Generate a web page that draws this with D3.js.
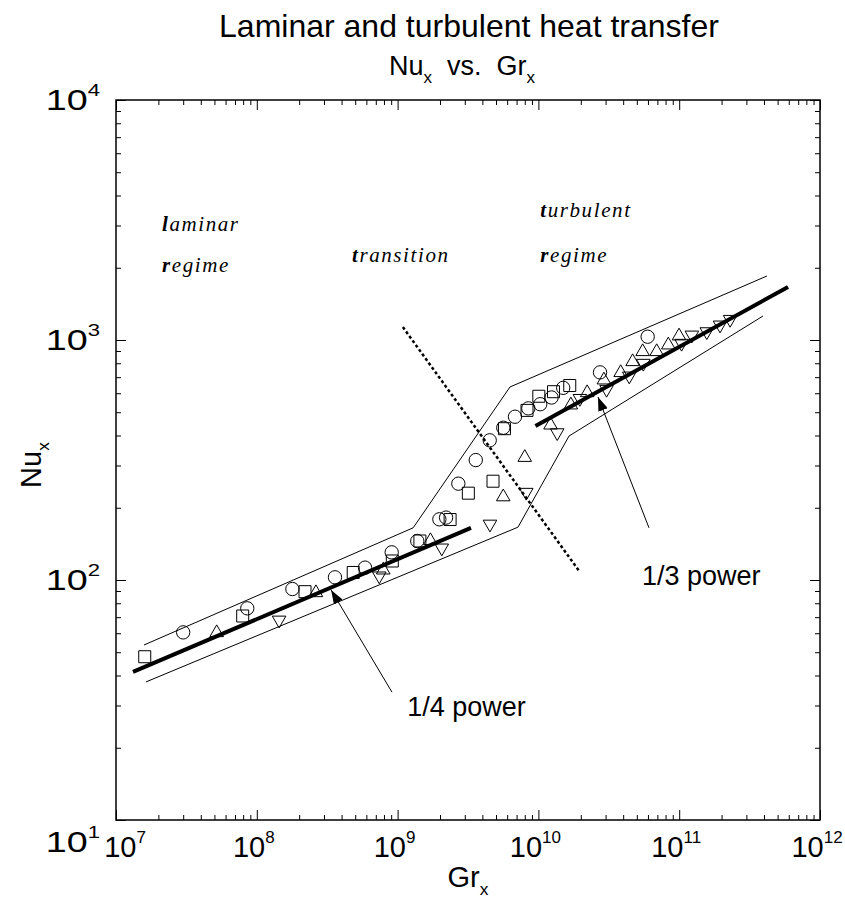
<!DOCTYPE html>
<html>
<head>
<meta charset="utf-8">
<script src="https://cdn.jsdelivr.net/npm/d3@7"></script>
<style>
  body { margin: 0; background: #fff; }
  svg { display: block; font-family: 'Liberation Sans', Arial, sans-serif; }
</style>
</head>
<body>
<svg id="chart" width="845" height="905"></svg>
<script>
// data (Gr_x, Nu_x)
const circleGr = [3.0e7, 8.56e7, 1.79e8, 3.59e8, 5.87e8, 9.08e8, 1.38e9, 1.98e9, 2.21e9, 2.70e9, 3.59e9, 4.51e9, 5.63e9, 6.82e9, 8.48e9, 1.03e10, 1.24e10, 1.50e10, 2.74e10, 5.97e10]
const circleNu = [60.5, 76.2, 91.7, 102.6, 112.6, 130.4, 145.4, 179, 182, 252, 316, 382, 431, 479, 519, 540, 576, 632, 733, 1032]

const squareGr = [1.60e7, 7.94e7, 2.20e8, 4.84e8, 9.17e8, 1.44e9, 2.36e9, 3.18e9, 4.76e9, 5.74e9, 8.30e9, 1.007e10, 1.28e10, 1.67e10]
const squareNu = [47.9, 70.8, 89.4, 107.5, 120, 145.4, 178.6, 230, 258, 427, 509, 583, 609, 646]

const upGr = [5.19e7, 2.63e8, 7.91e8, 1.71e9, 5.63e9, 8.0e9, 1.22e10, 1.70e10, 2.22e10, 2.92e10, 3.84e10, 4.67e10, 5.50e10, 6.92e10, 8.37e10, 9.97e10]
const upNu = [60.3, 88.5, 110, 145.8, 222, 324, 442, 536, 603, 681, 731, 812, 894, 894, 953, 1039]

const downGr = [1.44e8, 7.41e8, 2.06e9, 4.53e9, 8.20e9, 1.36e10, 1.97e10, 3.05e10, 4.42e10, 5.56e10, 1.04e11, 1.23e11, 1.57e11, 1.95e11, 2.30e11]
const downNu = [68.1, 104, 136, 171, 232, 411, 571, 623, 708, 800, 969, 1049, 1083, 1155, 1219]

// correlation lines and envelope
const laminarFitGr = [1.32e7, 3.32e9]
const laminarFitNu = [41.4, 165]
const turbulentFitGr = [9.53e9, 5.93e11]
const turbulentFitNu = [438, 1663]

const upperBandGr = [1.58e7, 1.29e9, 6.28e9, 4.2e11]
const upperBandNu = [53.6, 165, 637, 1848]
const lowerBandGr = [1.63e7, 7.16e9, 1.65e10, 3.94e11]
const lowerBandNu = [37.6, 166, 398, 1259]

const transitionLineGr = [1.09e9, 1.97e10]
const transitionLineNu = [1132, 108]

// annotations
const arrowQuarter = { from: [9.12e8, 34.1], to: [3.37e8, 90.9], label: '1/4 power', at: [1.17e9, 27.1] }
const arrowThird = { from: [6.1e10, 165], to: [2.65e10, 579], label: '1/3 power', at: [5.44e10, 95.3] }

const regimeLabels = [
    { lines: ['laminar', 'regime'], at: [2.12e7, 2853], gap: 41 },
    { lines: ['transition'], at: [4.74e8, 2120], gap: 0 },
    { lines: ['turbulent', 'regime'], at: [1.03e10, 3254], gap: 45 }
]

const xMajor = [1e7, 1e8, 1e9, 1e10, 1e11, 1e12]
const yMajor = [1e1, 1e2, 1e3, 1e4]

const svg = d3.select('#chart')
const m = { left: 116, right: 820, top: 100, bottom: 820 }

const x = d3.scaleLog().domain([1e7, 1e12]).range([m.left, m.right])
const y = d3.scaleLog().domain([1e1, 1e4]).range([m.bottom, m.top])

const minors = (majors) => majors.slice(0, -1).flatMap(v => d3.range(2, 10).map(k => k * v))
const xMinor = minors(xMajor)
const yMinor = minors(yMajor)

// axes: ticks on all four sides, pointing inward
const addAxis = (axisFn, scale, values, size, transform) => {
    const g = svg.append('g').attr('transform', transform)
        .call(axisFn(scale).tickValues(values).tickSize(size).tickFormat(''))
    g.select('.domain').remove()
    g.selectAll('.tick line').attr('stroke', '#000').attr('stroke-width', 1)
    return g
}
addAxis(d3.axisBottom, x, xMajor, -10, `translate(0,${m.bottom})`)
addAxis(d3.axisBottom, x, xMinor, -5, `translate(0,${m.bottom})`)
addAxis(d3.axisTop, x, xMajor, -10, `translate(0,${m.top})`)
addAxis(d3.axisTop, x, xMinor, -5, `translate(0,${m.top})`)
addAxis(d3.axisLeft, y, yMajor, -10, `translate(${m.left},0)`)
addAxis(d3.axisLeft, y, yMinor, -5, `translate(${m.left},0)`)
addAxis(d3.axisRight, y, yMajor, -10, `translate(${m.right},0)`)
addAxis(d3.axisRight, y, yMinor, -5, `translate(${m.right},0)`)

svg.append('rect')
    .attr('x', m.left).attr('y', m.top)
    .attr('width', m.right - m.left).attr('height', m.bottom - m.top)
    .attr('fill', 'none').attr('stroke', '#000').attr('stroke-width', 1.5)

// power-of-ten tick labels
const powLabel = (sel) => {
    sel.append('tspan').text('10')
    sel.append('tspan').attr('dy', -14).attr('font-size', 17).text(d => Math.round(Math.log10(d)))
}
svg.append('g').selectAll('text').data(xMajor).join('text')
    .attr('x', d => x(d) - 3 + (d === 1e7 ? 12 : 0)).attr('y', m.bottom + 37)
    .attr('text-anchor', 'middle').attr('font-size', 29)
    .call(powLabel)
// y labels are drawn wider than the x ones in the reference
svg.append('g').selectAll('text').data(yMajor).join('text')
    .attr('transform', d => `translate(${m.left - 16},${y(d) + 10 + (d === 10 ? 22 : 0)}) scale(1.3,1)`)
    .attr('text-anchor', 'end').attr('font-size', 29)
    .call(powLabel)

// axis titles and headings
const subText = (sel, main, sub, size) => {
    sel.append('tspan').text(main)
    sel.append('tspan').attr('dy', 8).attr('font-size', size * 0.6).text(sub)
}
svg.append('text').attr('x', 468).attr('y', 887).attr('text-anchor', 'middle')
    .attr('font-size', 29).call(subText, 'Gr', 'x', 29)
svg.append('text').attr('transform', 'translate(41,465) rotate(-90)').attr('text-anchor', 'middle')
    .attr('font-size', 29).call(subText, 'Nu', 'x', 29)

svg.append('text').attr('x', 469).attr('y', 37).attr('text-anchor', 'middle')
    .attr('font-size', 32).text('Laminar and turbulent heat transfer')
const subtitle = svg.append('text').attr('x', 462).attr('y', 75).attr('text-anchor', 'middle').attr('font-size', 27)
subtitle.append('tspan').text('Nu')
subtitle.append('tspan').attr('dy', 8).attr('font-size', 17).text('x')
subtitle.append('tspan').attr('dy', -8).text('\u00a0 vs. \u00a0Gr')
subtitle.append('tspan').attr('dy', 8).attr('font-size', 17).text('x')

// band and fits
const line = d3.line().x(d => x(d[0])).y(d => y(d[1]))
const pairs = (gr, nu) => gr.map((g, i) => [g, nu[i]])

svg.append('path').datum(pairs(upperBandGr, upperBandNu))
    .attr('d', line).attr('fill', 'none').attr('stroke', '#000').attr('stroke-width', 1)
svg.append('path').datum(pairs(lowerBandGr, lowerBandNu))
    .attr('d', line).attr('fill', 'none').attr('stroke', '#000').attr('stroke-width', 1)
svg.append('path').datum(pairs(transitionLineGr, transitionLineNu))
    .attr('d', line).attr('fill', 'none').attr('stroke', '#000')
    .attr('stroke-width', 2.5).attr('stroke-dasharray', '3,2.5')

// data markers
const series = [
    { gr: circleGr, nu: circleNu, type: d3.symbolCircle, size: 140, rot: 0 },
    { gr: squareGr, nu: squareNu, type: d3.symbolSquare, size: 144, rot: 0 },
    { gr: upGr, nu: upNu, type: d3.symbolTriangle, size: 80, rot: 0 },
    { gr: downGr, nu: downNu, type: d3.symbolTriangle, size: 80, rot: 180 }
]
series.forEach(s => {
    svg.append('g').selectAll('path').data(pairs(s.gr, s.nu)).join('path')
        .attr('transform', d => `translate(${x(d[0])},${y(d[1])}) rotate(${s.rot})`)
        .attr('d', d3.symbol().type(s.type).size(s.size))
        .attr('fill', 'none').attr('stroke', '#000').attr('stroke-width', 1)
})

svg.append('path').datum(pairs(laminarFitGr, laminarFitNu))
    .attr('d', line).attr('fill', 'none').attr('stroke', '#000').attr('stroke-width', 4)
svg.append('path').datum(pairs(turbulentFitGr, turbulentFitNu))
    .attr('d', line).attr('fill', 'none').attr('stroke', '#000').attr('stroke-width', 4)

// arrows
svg.append('defs').append('marker')
    .attr('id', 'head').attr('viewBox', '0 0 14 10')
    .attr('refX', 14).attr('refY', 5)
    .attr('markerWidth', 14).attr('markerHeight', 10)
    .attr('markerUnits', 'userSpaceOnUse').attr('orient', 'auto')
    .append('path').attr('d', 'M0,0L14,5L0,10Z').attr('fill', '#000')

;[arrowQuarter, arrowThird].forEach(a => {
    svg.append('line')
        .attr('x1', x(a.from[0])).attr('y1', y(a.from[1]))
        .attr('x2', x(a.to[0])).attr('y2', y(a.to[1]))
        .attr('stroke', '#000').attr('stroke-width', 1)
        .attr('marker-end', 'url(#head)')
    svg.append('text').attr('x', x(a.at[0])).attr('y', y(a.at[1]))
        .attr('font-size', 27).text(a.label)
})

// regime labels
regimeLabels.forEach(r => {
    r.lines.forEach((w, i) => {
        const t = svg.append('text')
            .attr('x', x(r.at[0])).attr('y', y(r.at[1]) + i * r.gap)
            .attr('font-family', "'Liberation Serif', serif").attr('font-style', 'italic')
            .attr('font-size', 21).attr('letter-spacing', 1.6)
        t.append('tspan').attr('font-weight', 'bold').text(w[0])
        t.append('tspan').text(w.slice(1))
    })
})
</script>
</body>
</html>
